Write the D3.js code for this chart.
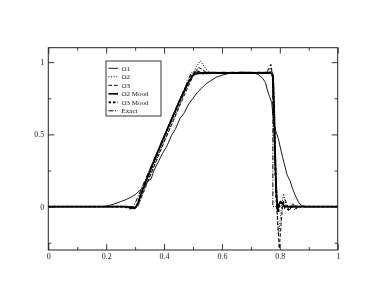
<!DOCTYPE html>
<html><head><meta charset="utf-8">
<script src="https://cdn.jsdelivr.net/npm/d3@7"></script>
<style>body{margin:0;background:#fff}svg{display:block;will-change:transform}</style>
</head><body>
<script>
// ---- data ----
const xTicksMajor = [0, 0.2, 0.4, 0.6, 0.8, 1];
const xTickLabels = ["0", "0.2", "0.4", "0.6", "0.8", "1"];
const xTicksMinor = [0.1, 0.3, 0.5, 0.7, 0.9];
const yTicksMajor = [0, 0.5, 1];
const yTickLabels = ["0", "0.5", "1"];
const yTicksMinor = [-0.25, 0.25, 0.75];

const o1X = [0,0.19,0.21,0.23,0.25,0.27,0.29,0.305,0.32,0.335,0.345,0.355,0.365,0.38,0.395,0.41,0.425,0.44,0.455,0.47,0.485,0.5,0.515,0.53,0.545,0.56,0.58,0.6,0.62,0.64,0.66,0.69,0.71,0.725,0.74,0.75,0.758,0.765,0.772,0.778,0.785,0.795,0.805,0.815,0.825,0.835,0.845,0.855,0.865,0.875,0.89,1];
const o1Y = [0,0,0.008,0.02,0.035,0.05,0.07,0.09,0.12,0.15,0.18,0.19,0.25,0.31,0.37,0.42,0.49,0.54,0.61,0.65,0.71,0.75,0.79,0.82,0.85,0.87,0.895,0.91,0.92,0.925,0.93,0.93,0.925,0.915,0.89,0.86,0.8,0.76,0.72,0.6,0.53,0.47,0.38,0.3,0.22,0.18,0.12,0.07,0.03,0.008,0,0];

const o2X = [0,0.27,0.285,0.3,0.312,0.326,0.355,0.393,0.433,0.473,0.495,0.512,0.526,0.538,0.553,0.58,0.65,0.72,0.755,0.768,0.775,0.78,0.786,0.796,0.806,0.813,0.82,0.83,0.84,0.85,0.87,1];
const o2Y = [0,0,-0.01,-0.015,0.01,0.09,0.23,0.42,0.6,0.8,0.9,0.97,1.01,0.97,0.935,0.925,0.925,0.925,0.93,0.96,0.9,0.6,0.15,-0.2,0.0,0.09,0.02,-0.03,0.01,-0.02,0,0];

const o3X = [0,0.27,0.288,0.298,0.307,0.321,0.345,0.374,0.403,0.433,0.463,0.49,0.505,0.518,0.532,0.545,0.56,0.6,0.7,0.755,0.763,0.769,0.774,0.778,0.786,0.798,0.81,0.818,0.826,0.835,0.845,0.855,0.865,1];
const o3Y = [0,0,-0.01,-0.012,0.005,0.06,0.18,0.32,0.46,0.6,0.74,0.86,0.92,0.965,0.95,0.93,0.925,0.925,0.925,0.93,0.96,0.985,0.92,0.6,0.1,-0.29,0.02,0.05,0.01,-0.02,0.02,-0.015,0,0];

const o2mX = [0,0.27,0.288,0.298,0.308,0.317,0.336,0.364,0.393,0.423,0.453,0.484,0.5,0.512,0.53,0.6,0.7,0.77,0.776,0.78,0.784,0.788,0.792,0.798,0.806,0.815,0.83,0.85,1];
const o2mY = [0,0,-0.005,-0.01,0.01,0.07,0.17,0.31,0.45,0.59,0.73,0.86,0.91,0.92,0.925,0.925,0.925,0.925,0.91,0.7,0.35,0.1,-0.02,0.02,0.03,0.005,0,0,0];

const o3mX = [0,0.26,0.28,0.293,0.303,0.312,0.326,0.355,0.384,0.413,0.443,0.473,0.494,0.506,0.518,0.535,0.56,0.65,0.75,0.772,0.777,0.781,0.785,0.79,0.795,0.8,0.808,0.818,0.83,0.845,0.86,1];
const o3mY = [0,0,-0.01,-0.015,-0.005,0.04,0.12,0.26,0.4,0.54,0.68,0.82,0.9,0.93,0.935,0.92,0.925,0.925,0.925,0.93,0.88,0.6,0.25,0.02,-0.04,0.03,0.04,-0.01,-0.02,0.005,0,0];

const exX = [0,0.295,0.495,0.776,0.776,1];
const exY = [0,0,0.93,0.93,0,0];

const seriesNames = ["O1","O2","O3","O2 Mood","O3 Mood","Exact"];

// ---- drawing ----
const W = 374, H = 289;
const L = 48.3, R = 337.7, T = 47.7, B = 250;
const svg = d3.select("body").append("svg").attr("width", W).attr("height", H);
svg.append("rect").attr("width", W).attr("height", H).attr("fill", "#fff");

const x = d3.scaleLinear().domain([0, 1]).range([L, R]);
const y = d3.scaleLinear().domain([-0.3, 1.1]).range([B, T]);

svg.append("clipPath").attr("id", "clip").append("rect")
  .attr("x", L).attr("y", T).attr("width", R - L).attr("height", B - T);

const styles = [
  {w: 0.9, dash: null},
  {w: 1.0, dash: "1,1.6"},
  {w: 1.0, dash: "3.5,2"},
  {w: 1.8, dash: null},
  {w: 1.8, dash: "2.5,2"},
  {w: 1.0, dash: "5,1.5,1,1.5"}
];
const sets = [[o1X,o1Y],[o2X,o2Y],[o3X,o3Y],[o2mX,o2mY],[o3mX,o3mY],[exX,exY]];

const line = d3.line().x(d => x(d[0])).y(d => y(d[1]));
const g = svg.append("g").attr("clip-path", "url(#clip)");
sets.forEach((s, i) => {
  const pts = s[0].map((v, k) => [v, s[1][k]]);
  g.append("path").attr("d", line(pts)).attr("fill", "none")
    .attr("stroke", "#000").attr("stroke-width", styles[i].w)
    .attr("stroke-dasharray", styles[i].dash).attr("stroke-linejoin", "round");
});

// frame
svg.append("rect").attr("x", L).attr("y", T).attr("width", R - L).attr("height", B - T)
  .attr("fill", "none").attr("stroke", "#222").attr("stroke-width", 1);

// ticks (inward, mirrored)
const axB = d3.axisBottom(x).tickValues(xTicksMajor).tickSizeInner(-6).tickSizeOuter(0).tickPadding(3)
  .tickFormat((d, i) => xTickLabels[i]);
const axBm = d3.axisBottom(x).tickValues(xTicksMinor).tickSizeInner(-3).tickSizeOuter(0).tickFormat("");
const axT = d3.axisTop(x).tickValues(xTicksMajor).tickSizeInner(-6).tickSizeOuter(0).tickFormat("");
const axTm = d3.axisTop(x).tickValues(xTicksMinor).tickSizeInner(-3).tickSizeOuter(0).tickFormat("");
const axL = d3.axisLeft(y).tickValues(yTicksMajor).tickSizeInner(-6).tickSizeOuter(0).tickPadding(4)
  .tickFormat((d, i) => yTickLabels[i]);
const axLm = d3.axisLeft(y).tickValues(yTicksMinor).tickSizeInner(-3).tickSizeOuter(0).tickFormat("");
const axR = d3.axisRight(y).tickValues(yTicksMajor).tickSizeInner(-6).tickSizeOuter(0).tickFormat("");
const axRm = d3.axisRight(y).tickValues(yTicksMinor).tickSizeInner(-3).tickSizeOuter(0).tickFormat("");

function put(ax, tr) {
  const a = svg.append("g").attr("transform", tr).call(ax);
  a.select(".domain").remove();
  a.selectAll("line").attr("stroke", "#222").attr("stroke-width", 0.9);
  a.selectAll("text").attr("font-family", "Liberation Serif, serif").attr("font-size", 8).attr("fill", "#222");
  return a;
}
put(axB, `translate(0,${B})`);
put(axBm, `translate(0,${B})`);
put(axT, `translate(0,${T})`);
put(axTm, `translate(0,${T})`);
put(axL, `translate(${L},0)`);
put(axLm, `translate(${L},0)`);
put(axR, `translate(${R},0)`);
put(axRm, `translate(${R},0)`);

// legend
const lg = svg.append("g");
lg.append("rect").attr("x", 106).attr("y", 61).attr("width", 55).attr("height", 55)
  .attr("fill", "#fff").attr("stroke", "#222").attr("stroke-width", 0.9);
seriesNames.forEach((n, i) => {
  const yy = 68.3 + i * 8.5;
  lg.append("line").attr("x1", 108.5).attr("x2", 118).attr("y1", yy).attr("y2", yy)
    .attr("stroke", "#000").attr("stroke-width", styles[i].w).attr("stroke-dasharray", styles[i].dash);
  lg.append("text").attr("x", 121.5).attr("y", yy + 2.4).text(n)
    .attr("font-family", "Liberation Serif, serif").attr("font-size", 7).attr("fill", "#111");
});
</script>
</body></html>
